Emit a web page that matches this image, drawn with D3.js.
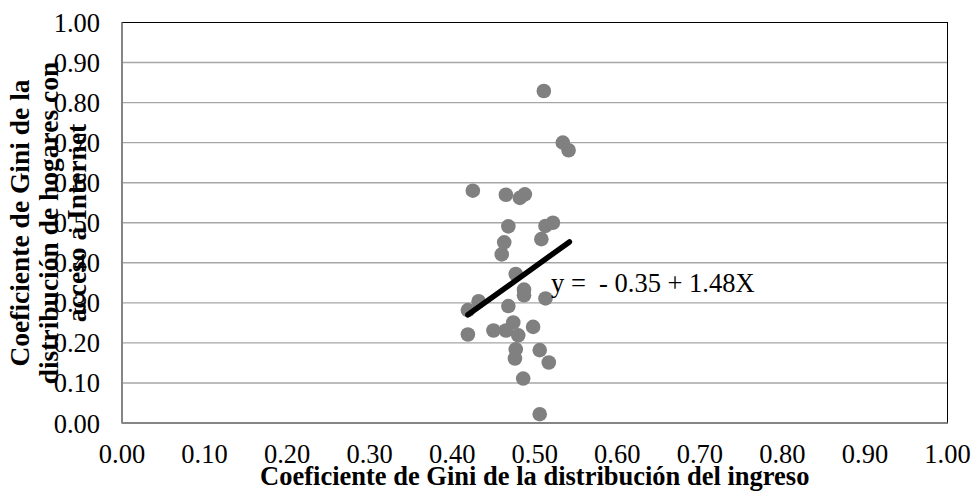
<!DOCTYPE html>
<html>
<head>
<meta charset="utf-8">
<script src="https://cdn.jsdelivr.net/npm/d3@7"></script>
<style>
  body { margin: 0; background: #fff; }
  svg text { font-family: "Liberation Serif", "Times New Roman", serif; fill: #000; }
</style>
</head>
<body>
<svg id="chart"></svg>
<script>
const width = 973;
const height = 491;

// Gini del ingreso (X) y Gini de hogares con acceso a Internet (Y)
const giniIngreso = [
  0.511, 0.534, 0.541, 0.425, 0.465, 0.482, 0.488, 0.468, 0.513, 0.522, 0.508,
  0.463, 0.460, 0.477, 0.487, 0.487, 0.513, 0.432, 0.419, 0.468, 0.474, 0.498,
  0.450, 0.465, 0.480, 0.419, 0.477, 0.476, 0.506, 0.517, 0.486, 0.506
];
const giniInternet = [
  0.829, 0.700, 0.681, 0.580, 0.570, 0.562, 0.571, 0.491, 0.492, 0.500, 0.459,
  0.451, 0.421, 0.372, 0.333, 0.319, 0.311, 0.304, 0.282, 0.292, 0.251, 0.240,
  0.231, 0.231, 0.219, 0.221, 0.184, 0.161, 0.182, 0.151, 0.111, 0.022
];
const ticks = [0, 0.1, 0.2, 0.3, 0.4, 0.5, 0.6, 0.7, 0.8, 0.9, 1.0];
const intercept = -0.35;
const slope = 1.48;
const lineRange = [0.419, 0.542];
const equationLabel = "y =  - 0.35 + 1.48X";
const xTitle = "Coeficiente de Gini de la distribución del ingreso";
const yTitle = ["Coeficiente de Gini de la", "distribución de hogares con", "acceso a Internet"];

const margin = { top: 22.5, right: 25.5, bottom: 68, left: 122 };

const svg = d3.select("#chart")
  .attr("width", width)
  .attr("height", height);

const x = d3.scaleLinear().domain([0, 1]).range([margin.left, width - margin.right]);
const y = d3.scaleLinear().domain([0, 1]).range([height - margin.bottom, margin.top]);

// grid
svg.append("g")
  .selectAll("line")
  .data(ticks.slice(1, -1))
  .enter().append("line")
  .attr("x1", x(0))
  .attr("x2", x(1))
  .attr("y1", d => y(d))
  .attr("y2", d => y(d))
  .attr("stroke", "#a6a6a6")
  .attr("stroke-width", 1.4);

// frame
svg.append("rect")
  .attr("x", x(0))
  .attr("y", y(1))
  .attr("width", x(1) - x(0))
  .attr("height", y(0) - y(1))
  .attr("fill", "none")
  .attr("stroke", "#000")
  .attr("stroke-width", 1);

svg.append("line")
  .attr("x1", x(0)).attr("x2", x(0))
  .attr("y1", y(1)).attr("y2", y(0))
  .attr("stroke", "#858585").attr("stroke-width", 2);
svg.append("line")
  .attr("x1", x(0)).attr("x2", x(1))
  .attr("y1", y(0)).attr("y2", y(0))
  .attr("stroke", "#858585").attr("stroke-width", 2);

// tick labels
svg.append("g")
  .selectAll("text")
  .data(ticks)
  .enter().append("text")
  .attr("x", d => x(d))
  .attr("y", 463)
  .attr("text-anchor", "middle")
  .style("font-size", "26.5px")
  .text(d => d.toFixed(2));

svg.append("g")
  .selectAll("text")
  .data(ticks)
  .enter().append("text")
  .attr("x", 100)
  .attr("y", d => y(d) + 9.5)
  .attr("text-anchor", "end")
  .style("font-size", "26.5px")
  .text(d => d.toFixed(2));

// points
svg.append("g")
  .selectAll("circle")
  .data(giniIngreso.map((d, i) => [d, giniInternet[i]]))
  .enter().append("circle")
  .attr("cx", d => x(d[0]))
  .attr("cy", d => y(d[1]))
  .attr("r", 7.3)
  .attr("fill", "#808080");

// trend line
const line = d3.line()
  .x(d => x(d))
  .y(d => y(intercept + slope * d));

svg.append("path")
  .attr("d", line(lineRange))
  .attr("fill", "none")
  .attr("stroke", "#000")
  .attr("stroke-width", 5.5)
  .attr("stroke-linecap", "round");

svg.append("text")
  .attr("x", 551)
  .attr("y", 292)
  .style("font-size", "26.5px")
  .style("white-space", "pre")
  .text(equationLabel);

// axis titles
svg.append("text")
  .attr("x", (x(0) + x(1)) / 2)
  .attr("y", 485)
  .attr("text-anchor", "middle")
  .style("font-size", "26.5px")
  .style("font-weight", "bold")
  .text(xTitle);

svg.append("g")
  .selectAll("text")
  .data(yTitle)
  .enter().append("text")
  .attr("transform", (d, i) => `translate(${29 + i * 28.5},223) rotate(-90)`)
  .attr("text-anchor", "middle")
  .style("font-size", "27.5px")
  .style("font-weight", "bold")
  .text(d => d);
</script>
</body>
</html>
